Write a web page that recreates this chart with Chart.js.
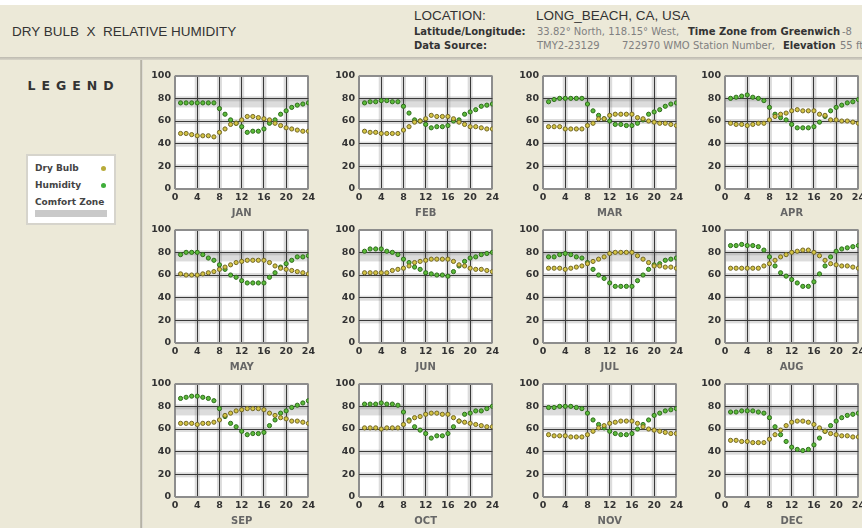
<!DOCTYPE html>
<html><head><meta charset="utf-8">
<script src="https://cdn.jsdelivr.net/npm/chart.js@4.4.0/dist/chart.umd.min.js"></script>
<style>
html,body{margin:0;padding:0;width:862px;height:528px;overflow:hidden;background:#ECE9D8;}
body{position:relative;font-family:"DejaVu Sans",sans-serif;}
.abs{position:absolute;white-space:pre;}
#topstrip{left:0;top:0;width:862px;height:5px;background:#fff;}
#header{left:0;top:5px;width:862px;height:52px;background:#ECE9D8;}
#hline{left:0;top:57px;width:862px;height:3px;background:linear-gradient(#bdbab0,#d8d5c8);}
#vline{left:140px;top:60px;width:3px;height:468px;background:linear-gradient(90deg,#c6c3b6,#b5b2a6,#f4f2ea);}
.big{font-family:"Liberation Sans",Arial,sans-serif;font-size:13.5px;color:#333;line-height:16px;}
.lab{font-family:"DejaVu Sans",sans-serif;font-weight:bold;font-size:10px;color:#333;line-height:12px;}
.val{font-family:"DejaVu Sans",sans-serif;font-size:10px;color:#808080;line-height:12px;}
#legtitle{left:0;top:78px;width:143px;text-align:center;font-family:"DejaVu Sans",sans-serif;font-weight:bold;font-size:12.5px;letter-spacing:6px;color:#333;padding-left:4px;box-sizing:border-box;}
#legbox{left:26px;top:154px;width:86px;height:67px;background:#fff;border:2px solid #d6d4cc;}
.li{font-family:"DejaVu Sans",sans-serif;font-weight:bold;font-size:9px;color:#444;line-height:11px;}
.dot{width:5px;height:5px;border-radius:50%;}
#czbar{left:35px;top:210px;width:72px;height:7px;background:#c9c9c9;}
canvas{position:absolute;}
</style>
</head><body>
<div class="abs" id="topstrip"></div>
<div class="abs" id="header"></div>
<div class="abs" id="hline"></div>
<div class="abs" id="vline"></div>

<div class="abs big" style="left:12px;top:24px;">DRY BULB  X  RELATIVE HUMIDITY</div>
<div class="abs big" style="left:414px;top:8px;">LOCATION:</div>
<div class="abs big" style="left:536px;top:8px;">LONG_BEACH, CA, USA</div>
<div class="abs lab" style="left:414px;top:26px;">Latitude/Longitude:</div>
<div class="abs val" style="left:537px;top:26px;">33.82° North, 118.15° West,</div>
<div class="abs lab" style="left:688px;top:26px;">Time Zone from Greenwich</div>
<div class="abs val" style="left:842px;top:26px;">-8</div>
<div class="abs lab" style="left:414px;top:40px;">Data Source:</div>
<div class="abs val" style="left:537px;top:40px;">TMY2-23129</div>
<div class="abs val" style="left:622px;top:40px;">722970 WMO Station Number,</div>
<div class="abs lab" style="left:783px;top:40px;">Elevation</div>
<div class="abs val" style="left:840px;top:40px;">55 ft</div>

<div class="abs" id="legtitle">LEGEND</div>
<div class="abs" id="legbox"></div>
<div class="abs li" style="left:35px;top:163px;">Dry Bulb</div>
<div class="abs dot" style="left:101px;top:166px;background:#b8ab3a;"></div>
<div class="abs li" style="left:35px;top:180px;">Humidity</div>
<div class="abs dot" style="left:101px;top:183px;background:#3fae3a;"></div>
<div class="abs li" style="left:35px;top:197px;">Comfort Zone</div>
<div class="abs" id="czbar"></div>

<script>
const months = ['JAN','FEB','MAR','APR','MAY','JUN','JUL','AUG','SEP','OCT','NOV','DEC'];
const hours = [1,2,3,4,5,6,7,8,9,10,11,12,13,14,15,16,17,18,19,20,21,22,23,24];
const xTickValues = [0,4,8,12,16,20,24];
const yTickValues = [0,20,40,60,80,100];
const comfortZone = [72,80];

const humJAN = [76,76,76,76,76,76,76,71,66,61,58,55,50,51,51,53,58,61,66,69,72,74,75,76];
const dryJAN = [49,49,48,47,47,47,46,50,53,57,58,61,64,64,63,62,61,58,56,54,53,52,51,51];
const humFEB = [76,77,77,78,78,77,77,73,67,61,60,57,54,55,55,56,60,61,66,68,70,73,74,75];
const dryFEB = [51,50,50,49,49,49,49,52,55,59,60,62,65,64,64,64,62,59,57,55,55,54,53,53];
const humMAR = [77,79,80,80,80,80,80,75,69,65,62,60,57,57,56,56,58,61,66,68,70,73,75,76];
const dryMAR = [55,55,55,53,53,53,53,56,58,62,62,65,66,66,66,66,63,62,60,59,58,58,57,56];
const humAPR = [80,81,82,83,81,80,78,72,66,63,61,57,54,54,54,55,59,64,69,72,74,76,77,79];
const dryAPR = [58,57,57,56,57,58,58,61,64,66,67,69,70,69,69,69,66,65,61,61,60,60,59,58];
const humMAY = [78,80,80,80,78,75,73,69,65,60,58,55,53,53,53,53,58,62,67,70,73,76,76,77];
const dryMAY = [61,60,60,60,61,62,63,65,67,69,71,72,73,73,73,73,71,68,66,65,64,63,62,61];
const humJUN = [81,83,83,83,81,80,78,74,71,67,65,62,61,60,60,59,63,68,72,75,76,78,79,80];
const dryJUN = [62,62,62,62,62,64,65,66,68,71,72,73,74,74,74,74,72,69,68,66,65,65,64,63];
const humJUL = [76,76,78,79,78,76,75,71,65,60,57,53,50,50,50,50,55,60,65,69,70,73,74,75];
const dryJUL = [66,66,66,65,66,67,68,70,72,74,76,79,80,80,80,80,77,74,71,68,68,67,67,66];
const humAUG = [86,86,87,86,86,85,82,76,68,62,59,56,53,50,50,54,61,68,76,81,83,84,85,86];
const dryAUG = [66,66,66,66,66,66,68,70,73,76,78,80,81,82,82,80,77,73,70,69,68,68,67,66];
const humSEP = [87,88,89,89,88,87,85,78,71,65,62,58,55,56,56,57,63,68,74,76,79,81,83,85];
const drySEP = [65,65,65,64,65,65,66,68,72,74,76,77,78,78,78,77,74,72,70,69,67,67,66,65];
const humOCT = [82,82,82,83,82,82,81,75,68,62,59,56,52,54,54,56,62,67,73,74,76,76,78,80];
const dryOCT = [61,61,61,60,61,61,61,64,67,70,71,73,74,74,73,73,70,67,66,65,64,63,62,62];
const humNOV = [79,79,80,80,80,79,78,74,68,64,61,58,56,55,55,56,60,64,68,72,74,76,77,78];
const dryNOV = [55,54,54,54,53,53,53,55,58,61,63,65,66,67,67,67,65,62,60,59,58,57,56,56];
const humDEC = [75,75,76,76,76,75,74,70,62,55,49,44,42,41,42,46,52,58,63,67,70,72,73,74];
const dryDEC = [50,50,49,49,48,48,48,51,55,59,63,66,67,67,66,64,61,58,56,55,54,54,53,53];

const humidity = [humJAN,humFEB,humMAR,humAPR,humMAY,humJUN,humJUL,humAUG,humSEP,humOCT,humNOV,humDEC];
const dryBulb  = [dryJAN,dryFEB,dryMAR,dryAPR,dryMAY,dryJUN,dryJUL,dryAUG,drySEP,dryOCT,dryNOV,dryDEC];

// layout of panels
const colLeft = [175, 359, 543, 725];
const rowTop = [74, 228, 382];
const plotW = 135, plotH = 115;
const padL = 4, yAxisW = 30, padT = 8, padR = 8, xAxisH = 32;

const backdrop = {
  id: 'backdrop',
  beforeDraw(chart) {
    const {ctx, chartArea: a, scales: {x, y}} = chart;
    ctx.save();
    ctx.fillStyle = '#ffffff';
    ctx.fillRect(a.left, a.top, a.width, a.height);
    const zTop = y.getPixelForValue(comfortZone[1]);
    const zBot = y.getPixelForValue(comfortZone[0]);
    ctx.fillStyle = '#dcdcdc';
    ctx.fillRect(a.left, zTop, a.width, zBot - zTop);
    ctx.fillStyle = 'rgba(120,120,120,0.26)';
    yTickValues.slice(1, -1).forEach(v => {
      const p = y.getPixelForValue(v);
      ctx.fillRect(a.left, p - 2, a.width, 5);
    });
    xTickValues.slice(1, -1).forEach(v => {
      const p = x.getPixelForValue(v);
      ctx.fillRect(p - 2.5, a.top, 5, a.height);
    });
    ctx.restore();
  }
};

const tickFont = {family: 'DejaVu Sans', weight: 'bold', size: 9.5};
const isEdge = (ctx, arr) => ctx.tick && (ctx.tick.value === arr[0] || ctx.tick.value === arr[arr.length - 1]);

months.forEach((m, i) => {
  const col = i % 4, row = Math.floor(i / 4);
  const cv = document.createElement('canvas');
  const w = padL + yAxisW + plotW + padR, h = padT + plotH + xAxisH;
  cv.width = w; cv.height = h;
  cv.style.left = (colLeft[col] - padL - yAxisW) + 'px';
  cv.style.top = (rowTop[row] - padT) + 'px';
  cv.style.width = w + 'px'; cv.style.height = h + 'px';
  document.body.appendChild(cv);

  new Chart(cv, {
    type: 'scatter',
    data: {
      datasets: [
        {
          label: 'Dry Bulb',
          data: hours.map((hr, k) => ({x: hr, y: dryBulb[i][k]})),
          pointRadius: 2.1, pointBorderWidth: 1,
          pointBackgroundColor: '#d4c444', pointBorderColor: '#736826'
        },
        {
          label: 'Humidity',
          data: hours.map((hr, k) => ({x: hr, y: humidity[i][k]})),
          pointRadius: 2.1, pointBorderWidth: 1,
          pointBackgroundColor: '#5cbb3a', pointBorderColor: '#2f6e1c'
        }
      ]
    },
    options: {
      responsive: false, animation: false, devicePixelRatio: 1, events: [],
      layout: {padding: {left: padL, top: padT, right: padR, bottom: 0}},
      plugins: {legend: {display: false}, tooltip: {enabled: false}},
      scales: {
        x: {
          type: 'linear', min: 0, max: 24,
          afterBuildTicks: s => { s.ticks = xTickValues.map(v => ({value: v})); },
          afterFit: s => { s.height = xAxisH; },
          grid: {
            drawTicks: false,
            color: c => isEdge(c, xTickValues) ? '#8d8d8d' : '#3a3a3a',
            lineWidth: c => isEdge(c, xTickValues) ? 2 : 1
          },
          border: {display: false},
          ticks: {padding: 3, font: tickFont, color: '#333', maxRotation: 0, autoSkip: false},
          title: {display: true, text: m, color: '#666',
                  font: {family: 'DejaVu Sans', weight: 'bold', size: 10}, padding: {top: 0, bottom: 2}}
        },
        y: {
          type: 'linear', min: 0, max: 100,
          afterBuildTicks: s => { s.ticks = yTickValues.map(v => ({value: v})); },
          afterFit: s => { s.width = yAxisW; },
          grid: {
            drawTicks: false,
            color: c => isEdge(c, yTickValues) ? '#8d8d8d' : '#3a3a3a',
            lineWidth: c => isEdge(c, yTickValues) ? 2 : 1
          },
          border: {display: false},
          ticks: {padding: 4, font: tickFont, color: '#333', autoSkip: false}
        }
      }
    },
    plugins: [backdrop]
  });
});
</script>
</body></html>
